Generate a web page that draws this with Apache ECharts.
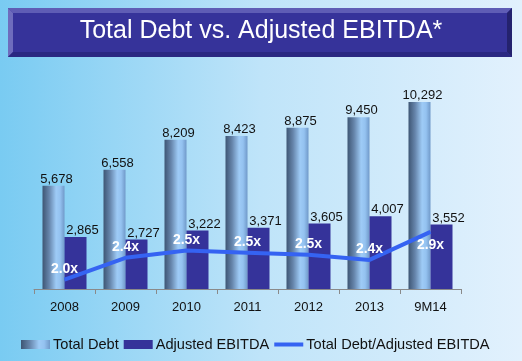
<!DOCTYPE html>
<html>
<head>
<meta charset="utf-8">
<script src="https://cdn.jsdelivr.net/npm/echarts@6/dist/echarts.min.js"></script>
<style>
html,body{margin:0;padding:0;}
#c{width:522px;height:361px;}
</style>
</head>
<body>
<div id="c"></div>
<script>
const titleText = 'Total Debt vs. Adjusted EBITDA*';
const categories = ['2008','2009','2010','2011','2012','2013','9M14'];
const totalDebt = [5678, 6558, 8209, 8423, 8875, 9450, 10292];
const adjEbitda = [2865, 2727, 3222, 3371, 3605, 4007, 3552];
const debtRatio = [1.98, 2.40, 2.54, 2.50, 2.46, 2.36, 2.90];
const seriesNames = ['Total Debt', 'Adjusted EBITDA', 'Total Debt/Adjusted EBITDA'];

const chart = echarts.init(document.getElementById('c'), null, {renderer:'canvas'});
const font = 'Liberation Sans, Arial, sans-serif';
const fmt = v => v.toString().replace(/\B(?=(\d{3})+(?!\d))/g, ',');

// banner geometry
const bx = 8, by = 8, bw = 504, bh = 49, bv = 5;

const lastIdx = debtRatio.length - 1;

chart.setOption({
  backgroundColor: {type:'linear', x:0, y:0, x2:1, y2:0, colorStops:[
    {offset:0, color:'#79cbf2'}, {offset:0.5, color:'#bfe4f9'}, {offset:1, color:'#e2f1fd'}]},
  textStyle: {fontFamily: font},
  animation: false,
  graphic: [
    {type:'rect', shape:{x:bx, y:by, width:bw, height:bh}, style:{fill:'#36339a'}},
    {type:'polygon', shape:{points:[[bx,by],[bx+bw,by],[bx+bw-bv,by+bv],[bx+bv,by+bv]]}, style:{fill:'#5f5db5'}},
    {type:'polygon', shape:{points:[[bx,by],[bx+bv,by+bv],[bx+bv,by+bh-bv],[bx,by+bh]]}, style:{fill:'#6e6cbd'}},
    {type:'polygon', shape:{points:[[bx+bw,by],[bx+bw,by+bh],[bx+bw-bv,by+bh-bv],[bx+bw-bv,by+bv]]}, style:{fill:'#24226e'}},
    {type:'polygon', shape:{points:[[bx,by+bh],[bx+bv,by+bh-bv],[bx+bw-bv,by+bh-bv],[bx+bw,by+bh]]}, style:{fill:'#2a2882'}},
    {type:'text', left:'center', top:19, style:{text:titleText, fill:'#ffffff', font:'25px ' + font}}
  ],
  legend: {
    left: 16, top: 332,
    itemWidth: 29, itemHeight: 9, itemGap: 5,
    textStyle: {fontSize: 14.6, color:'#111', fontFamily: font, padding:[0,0,0,-2]},
    data: [
      {name: seriesNames[0], icon:'rect'},
      {name: seriesNames[1], icon:'rect'},
      {name: seriesNames[2], icon:'path://M0,0 L29,0 L29,4 L0,4 Z'}
    ]
  },
  grid: {left: 34, right: 61, top: 71, bottom: 72},
  xAxis: {
    type:'category', data: categories,
    axisLine: {lineStyle:{color:'#8a8a8a', width:1}},
    axisTick: {show:true, length:5, lineStyle:{color:'#8a8a8a'}},
    axisLabel: {color:'#111', fontSize:13, margin:12, fontFamily: font}
  },
  yAxis: [
    {type:'value', min:0, max:12000, show:false, splitLine:{show:false}},
    {type:'value', min:1.8, max:6.0, show:false, splitLine:{show:false}}
  ],
  series: [
    {
      name: seriesNames[0], type:'bar', data: totalDebt, barWidth:22, barGap:'0%',
      itemStyle: {color: {type:'linear', x:0, y:0, x2:1, y2:0, colorStops:[
        {offset:0, color:'#3e5674'}, {offset:0.3, color:'#6685ab'},
        {offset:0.62, color:'#9ecbf6'}, {offset:0.8, color:'#94c2f0'}, {offset:1, color:'#7099c9'}]}},
      label: {show:true, position:'top', distance:0, offset:[3,0], color:'#111', fontSize:13, fontFamily: font,
              formatter: p => fmt(p.value)}
    },
    {
      name: seriesNames[1], type:'bar', data: adjEbitda, barWidth:22,
      itemStyle: {color:'#35339a'},
      label: {show:true, position:'top', distance:0, offset:[7,0], color:'#111', fontSize:13, fontFamily: font,
              formatter: p => fmt(p.value)}
    },
    {
      name: seriesNames[2], type:'line', yAxisIndex:1,
      data: debtRatio.map((v,i) => i === lastIdx ? {value:v, label:{position:'bottom', distance:6}} : v),
      symbol:'circle', symbolSize:1, showSymbol:true,
      lineStyle: {color:'#3563f2', width:4},
      itemStyle: {color:'#3563f2'},
      z: 5,
      label: {show:true, position:'top', distance:3, color:'#fff', fontWeight:'bold', fontSize:14, fontFamily: font,
              formatter: p => (typeof p.value === 'number' ? p.value : p.data.value).toFixed(1) + 'x'}
    }
  ]
});
</script>
</body>
</html>
